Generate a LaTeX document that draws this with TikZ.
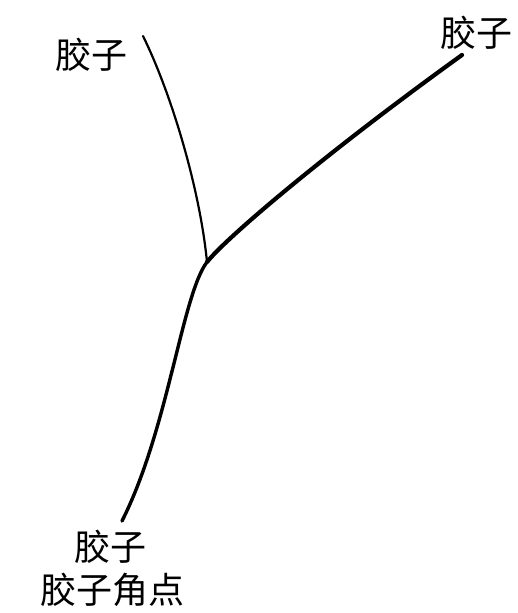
\documentclass[tikz,border=0pt]{standalone}
\usepackage{fontspec}
\newfontfamily\cjk{Noto Sans CJK SC}
\begin{document}
\begin{tikzpicture}[x=1pt,y=-1pt,
  lbl/.style={font=\cjk\fontsize{36}{42}\selectfont, inner sep=0pt},
  gl/.style={line cap=round}]
\useasboundingbox (0,0) rectangle (517,613);
\coordinate (v) at (207,262);
\coordinate (a) at (143,36);
\coordinate (b) at (462,55);
\coordinate (c) at (122,521);
\node[lbl] (la) at (91,55) {胶子};
\node[lbl] (lb) at (476,33) {胶子};
\node[lbl] (lc) at (110,547) {胶子};
\node[lbl] (ld) at (112,590) {胶子角点};
\draw[gl, line width=2.2pt] (a) .. controls (172,95) and (200,190) .. (v);
\draw[gl, line width=4.2pt] (v) .. controls (228,236) and (330,150) .. (b);
\draw[gl, line width=3.4pt] (v) .. controls (182,295) and (168,430) .. (c);
\end{tikzpicture}
\end{document}
